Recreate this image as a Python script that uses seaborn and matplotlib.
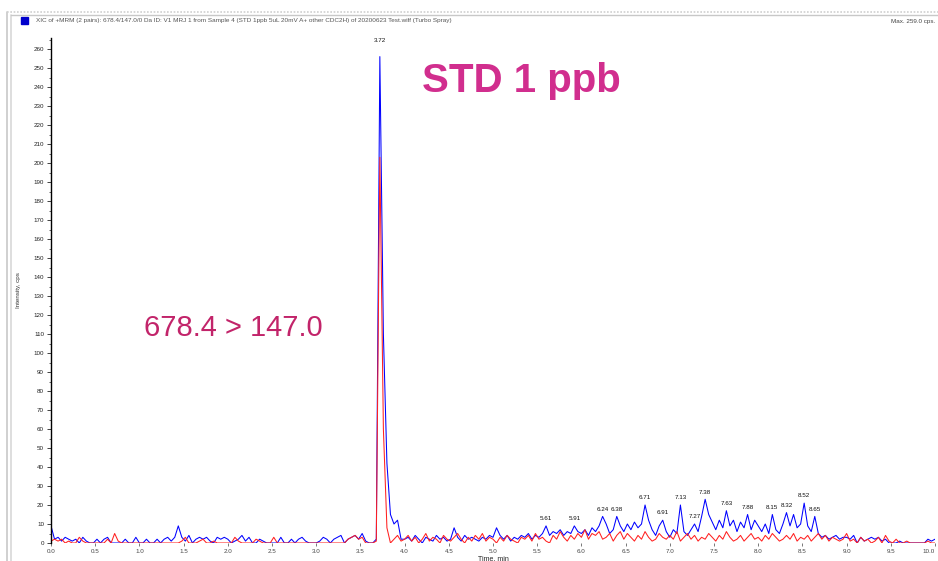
import numpy as np
import pandas as pd
import matplotlib
matplotlib.use("Agg")
import matplotlib.pyplot as plt
from matplotlib.lines import Line2D
from matplotlib.patches import Rectangle
import seaborn as sns

# ---- data (cps), sampled every 0.04 min, one list per minute ----
time_start = 0.0
time_step = 0.04

blue_m0 = [9,2,3,1,3,2,1,2,0,3,1,0,0,2,0,2,3,0,0,0,0,2,0,0,3]
blue_m1 = [0,0,2,0,0,2,0,2,3,1,3,9,3,1,4,0,2,3,2,3,1,0,3,2,3]
blue_m2 = [2,0,1,2,4,1,3,0,0,2,1,0,0,0,0,3,0,0,2,0,2,3,1,0,0]
blue_m3 = [0,1,3,2,0,2,3,4,0,2,3,4,2,5,1,0,0,2,256,110,42,15,10,12,2]
blue_m4 = [2,3,1,4,2,0,3,2,1,4,2,3,1,2,8,3,1,4,2,3,2,1,3,2,4]
blue_m5 = [3,8,4,2,4,1,3,2,4,3,5,2,4,3,5,9,4,6,5,7,4,6,5,9,6]
blue_m6 = [5,7,4,8,6,9,14,10,5,7,14,9,6,10,7,11,8,10,20,12,7,4,9,12,6]
blue_m7 = [3,7,5,20,6,4,7,10,6,14,23,15,11,7,12,8,17,9,12,6,11,8,15,7,12]
blue_m8 = [9,6,10,5,15,7,5,10,16,9,15,8,10,21,9,6,14,5,3,4,2,3,4,2,3]
blue_m9 = [3,2,4,0,3,1,2,3,2,3,1,2,0,0,0,1,0,0,0,0,0,0,0,2,1]
blue_end = [2]

red_m0 = [1,2,1,2,0,1,0,0,3,1,0,0,0,0,0,0,2,0,5,1,0,0,0,0,0]
red_m1 = [0,0,0,0,0,0,0,0,0,0,0,0,1,3,0,0,0,1,2,0,0,1,0,0,0]
red_m2 = [0,0,3,1,0,0,0,0,2,1,0,0,0,3,0,0,0,0,0,0,0,0,0,0,0]
red_m3 = [0,0,0,0,0,0,0,0,0,2,3,4,2,3,0,0,0,1,203,60,8,0,2,4,1]
red_m4 = [2,4,1,3,0,2,5,1,3,2,0,4,2,1,3,5,2,0,3,1,4,2,5,1,3]
red_m5 = [2,0,3,1,4,2,1,0,3,2,4,1,5,2,3,1,0,4,2,6,3,1,4,2,5]
red_m6 = [3,7,2,5,4,6,2,3,5,1,4,6,2,5,3,1,4,2,6,3,1,2,5,3,2]
red_m7 = [4,2,6,1,3,5,2,4,1,3,2,5,3,1,4,2,6,3,1,2,4,1,3,5,2]
red_m8 = [3,1,4,2,5,3,1,2,4,2,5,1,3,2,4,1,3,5,2,4,1,3,2,1,2]
red_m9 = [5,1,2,0,3,1,2,0,1,3,0,4,1,0,2,0,0,1,0,0,0,0,0,1,0]
red_end = [0]

peak_times = [3.72, 5.60, 5.92, 6.24, 6.40, 6.72, 6.92, 7.12, 7.28, 7.40,
              7.64, 7.88, 8.16, 8.32, 8.52, 8.64]
peak_labels = ["3.72", "5.61", "5.91", "6.24", "6.38", "6.71", "6.91", "7.13",
               "7.27", "7.38", "7.63", "7.88", "8.15", "8.32", "8.52", "8.65"]

x_ticks = [0.0, 0.5, 1.0, 1.5, 2.0, 2.5, 3.0, 3.5, 4.0, 4.5, 5.0,
           5.5, 6.0, 6.5, 7.0, 7.5, 8.0, 8.5, 9.0, 9.5, 10.0]

title_text = ("XIC of +MRM (2 pairs): 678.4/147.0/0 Da ID: V1 MRJ 1 from Sample 4 "
              "(STD 1ppb 5uL 20mV A+ other CDC2H) of 20200623 Test.wiff (Turbo Spray)")
max_text = "Max. 259.0 cps."
transition_text = "678.4 > 147.0"
std_text = "STD 1 ppb"

# ---- assemble ----
blue = blue_m0 + blue_m1 + blue_m2 + blue_m3 + blue_m4 + blue_m5 + blue_m6 + blue_m7 + blue_m8 + blue_m9 + blue_end
red = red_m0 + red_m1 + red_m2 + red_m3 + red_m4 + red_m5 + red_m6 + red_m7 + red_m8 + red_m9 + red_end
times = time_start + time_step * np.arange(len(blue))

df = pd.DataFrame({
    "time": np.concatenate([times, times]),
    "cps": np.array(blue + red, dtype=float),
    "trace": ["blue"] * len(blue) + ["red"] * len(red),
})

sns.set_theme(style="white")
plt.rcParams["font.family"] = ["Liberation Sans", "DejaVu Sans"]

W, H = 938, 561
fig = plt.figure(figsize=(W / 100, H / 100), dpi=100)
ax_left, ax_bottom = 51 / W, 1 - 543 / H
ax_w, ax_h = 884 / W, 266 * 1.9 / H
ax = fig.add_axes([ax_left, ax_bottom, ax_w, ax_h])

sns.lineplot(data=df, x="time", y="cps", hue="trace",
             palette={"blue": "#0000FF", "red": "#FF2020"},
             hue_order=["blue", "red"], linewidth=0.75, legend=False,
             sort=True, estimator=None, ax=ax)

ax.set_xlim(0, 10)
ax.set_ylim(0, 266)
ax.set_xticks(x_ticks)
ax.set_xticklabels([f"{v:.1f}" for v in x_ticks])
ax.set_yticks(np.arange(0, 261, 10))
ax.set_yticks(np.arange(0, 266, 5), minor=True)
ax.tick_params(axis="y", which="major", direction="out", length=3, width=0.6,
               labelsize=4.5, pad=2, colors="#222222", left=True)
ax.tick_params(axis="y", which="minor", direction="out", length=1.5, width=0.5, left=True)
ax.tick_params(axis="x", which="major", direction="out", length=2, width=0.5,
               labelsize=4.5, pad=2, colors="#444444", bottom=True)
# keep the last tick label inside the figure
ax.get_xticklabels()[-1].set_horizontalalignment("right")
ax.set_xlabel("Time, min", fontsize=5, color="#222222", labelpad=1)
ax.set_ylabel("")
for s in ["top", "right", "bottom"]:
    ax.spines[s].set_visible(False)
ax.spines["left"].set_color("black")
ax.spines["left"].set_linewidth(1.0)
ax.grid(False)

# peak labels
for t, lab in zip(peak_times, peak_labels):
    idx = int(round((t - time_start) / time_step))
    v = blue[idx]
    off = 7 if v > 100 else 2.5
    ax.text(t, v + off, lab, fontsize=4.5, ha="center", va="bottom", color="#111111")

# annotations
ax.text(1.05, 113, transition_text, fontsize=21, color="#C2246A",
        ha="left", va="center")
ax.text(4.2, 243, std_text, fontsize=29, fontweight="bold", color="#D12E8E",
        ha="left", va="center")

# figure-level decorations (window frame, title, y label)
fig.add_artist(Line2D([7 / W, 7 / W], [0, 1 - 12 / H], color="#C8C8C8", lw=1.2))
fig.add_artist(Line2D([10.5 / W, 10.5 / W], [0, 1 - 15 / H], color="#D8D8D8", lw=1.2))
fig.add_artist(Line2D([7 / W, 1], [1 - 12 / H, 1 - 12 / H], color="#D0D0D0", lw=1.2, ls=(0, (1, 1))))
fig.add_artist(Line2D([10.5 / W, 1], [1 - 15 / H, 1 - 15 / H], color="#C8C8C8", lw=1.0))
fig.add_artist(Rectangle((21 / W, 1 - 24 / H), 7 / W, 7 / H, color="#0000CC"))
fig.text(36 / W, 1 - 20.5 / H, title_text, fontsize=4.6, color="#555555", va="center", ha="left")
fig.text(935 / W, 1 - 22 / H, max_text, fontsize=4.5, color="#444444", va="center", ha="right")
fig.text(18 / W, 1 - 290 / H, "Intensity, cps", fontsize=4.5, color="#333333",
         rotation=90, va="center", ha="center")

fig.savefig("out.png", dpi=100)
